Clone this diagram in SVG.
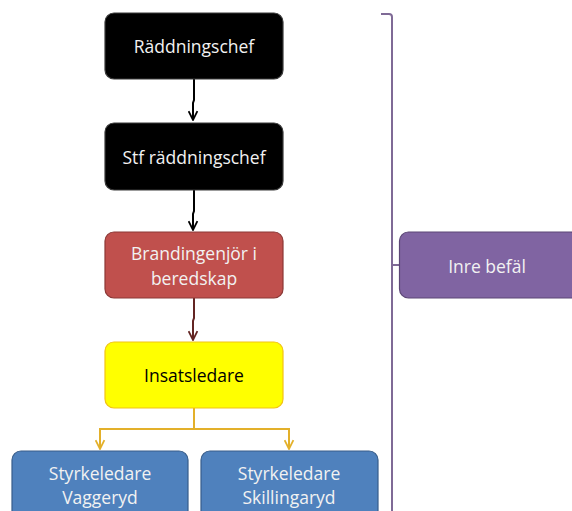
<svg xmlns="http://www.w3.org/2000/svg" width="572" height="511" viewBox="0 0 572 511">
<defs>
<marker id="ahk" viewBox="0 0 10 10" refX="9" refY="5" markerWidth="5.5" markerHeight="5.5" orient="auto">
<path d="M1,1 L9,5 L1,9" fill="none" stroke="#000" stroke-width="1.6"/>
</marker>
<marker id="ahr" viewBox="0 0 10 10" refX="9" refY="5" markerWidth="5.5" markerHeight="5.5" orient="auto">
<path d="M1,1 L9,5 L1,9" fill="none" stroke="#632523" stroke-width="1.6"/>
</marker>
<marker id="ahy" viewBox="0 0 10 10" refX="9" refY="5" markerWidth="5.5" markerHeight="5.5" orient="auto">
<path d="M1,1 L9,5 L1,9" fill="none" stroke="#E3B02A" stroke-width="1.6"/>
</marker>
</defs>
<style>
text{font-family:"Open Sans","Liberation Sans",sans-serif;font-size:17.5px;text-anchor:middle;dominant-baseline:central}
.lt{fill:#f2f2f2}
.dk{fill:#000}
.n rect{stroke-width:1.2}
.blk{fill:#000;stroke:#3a3a3a}
.red{fill:#C0504D;stroke:#8C3836}
.yel{fill:#FFFF00;stroke:#F2C314}
.blu{fill:#4F81BD;stroke:#385D8A}
.pur{fill:#8064A2;stroke:#5C4776}
.c{fill:none;stroke-width:2}
</style>
<rect width="572" height="511" fill="#fff"/>
<g id="connectors">
<path class="c" d="M194,79 V100 L193,103 V120" stroke="#000" marker-end="url(#ahk)"/>
<path class="c" d="M194,190 V211 L193,214 V230" stroke="#000" marker-end="url(#ahk)"/>
<path class="c" d="M194,298 V318 L193,321 V340" stroke="#632523" marker-end="url(#ahr)"/>
<path class="c" d="M194,408 V429 H100 V449" stroke="#E3B02A" marker-end="url(#ahy)"/>
<path class="c" d="M194,429 H289 V449" stroke="#E3B02A" marker-end="url(#ahy)"/>
<path d="M381,14 H389 Q392,14 392,17 V511 M392,265 H399" fill="none" stroke="#7F6A96" stroke-width="2"/>
</g>
<g id="n1" class="n"><rect class="blk" x="105" y="13" width="178" height="66" rx="9"/><text class="lt" x="194" y="46">Räddningschef</text></g>
<g id="n2" class="n"><rect class="blk" x="105" y="123" width="178" height="67" rx="9"/><text class="lt" x="194" y="157">Stf räddningschef</text></g>
<g id="n3" class="n"><rect class="red" x="105" y="232" width="178" height="66" rx="9"/><text class="lt" x="194" y="253">Brandingenjör i</text><text class="lt" x="194" y="278">beredskap</text></g>
<g id="n4" class="n"><rect class="yel" x="105" y="342" width="178" height="66" rx="9"/><text class="dk" x="194" y="375">Insatsledare</text></g>
<g id="n5" class="n"><rect class="blu" x="12" y="451" width="176" height="70" rx="9"/><text class="lt" x="100" y="473">Styrkeledare</text><text class="lt" x="100" y="497">Vaggeryd</text></g>
<g id="n6" class="n"><rect class="blu" x="201" y="451" width="177" height="70" rx="9"/><text class="lt" x="289" y="473">Styrkeledare</text><text class="lt" x="289" y="497">Skillingaryd</text></g>
<g id="n7" class="n"><rect class="pur" x="399.5" y="232" width="180" height="66" rx="9"/><text class="lt" x="487" y="266">Inre befäl</text></g>
</svg>
